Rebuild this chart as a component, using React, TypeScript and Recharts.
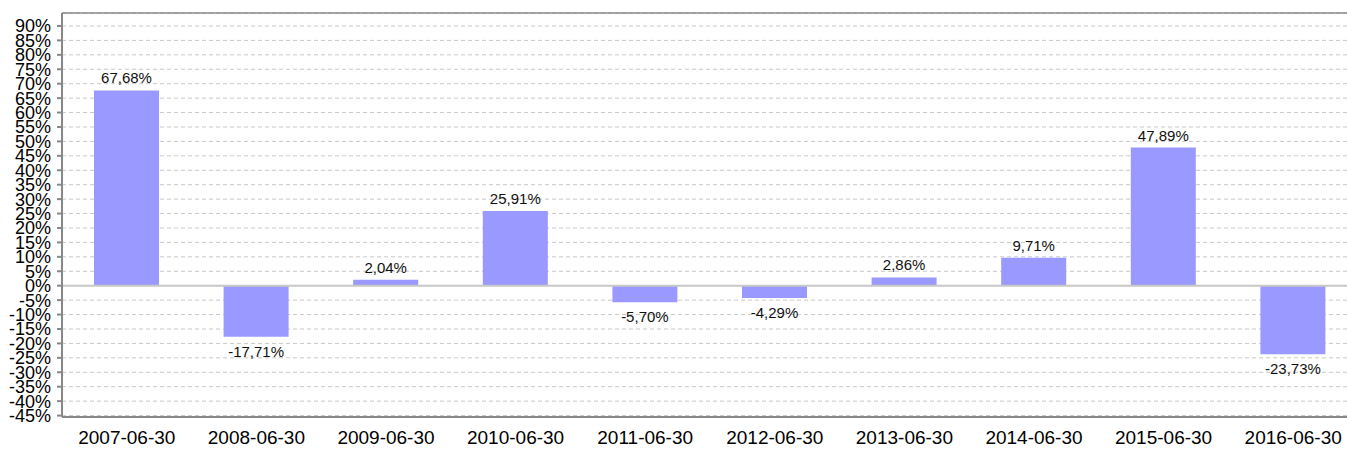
import React from "react";
import {
  BarChart,
  Bar,
  XAxis,
  YAxis,
  CartesianGrid,
  ReferenceLine,
  LabelList,
} from "recharts";

const dates = [
  "2007-06-30",
  "2008-06-30",
  "2009-06-30",
  "2010-06-30",
  "2011-06-30",
  "2012-06-30",
  "2013-06-30",
  "2014-06-30",
  "2015-06-30",
  "2016-06-30",
];

const returns = [67.68, -17.71, 2.04, 25.91, -5.7, -4.29, 2.86, 9.71, 47.89, -23.73];

const yTicks = [
  -45, -40, -35, -30, -25, -20, -15, -10, -5, 0, 5, 10, 15, 20, 25, 30, 35, 40,
  45, 50, 55, 60, 65, 70, 75, 80, 85, 90,
];

const chartData = dates.map((d, i) => ({ date: d, value: returns[i] }));

const font = "'Liberation Sans', Arial, sans-serif";

function fmt(v: number): string {
  return v.toFixed(2).replace(".", ",") + "%";
}

function BarLabel(props: any) {
  const { x, y, width, height, value } = props;
  const top = Math.min(y, y + height);
  const bottom = Math.max(y, y + height);
  const cx = x + width / 2;
  if (value >= 0) {
    return (
      <text x={cx} y={top - 7} textAnchor="middle" fontSize={15} fill="#111" fontFamily={font}>
        {fmt(value)}
      </text>
    );
  }
  return (
    <text x={cx} y={bottom + 20} textAnchor="middle" fontSize={15} fill="#111" fontFamily={font}>
      {fmt(value)}
    </text>
  );
}

export default function App() {
  // plot area runs a little past the right edge of the picture, as in the original
  return (
    <div
      style={{
        position: "fixed",
        left: 0,
        top: 0,
        width: 1347,
        height: 449,
        overflow: "hidden",
        background: "#fff",
      }}
    >
      <BarChart
        width={1358}
        height={449}
        data={chartData}
        margin={{ top: 13, right: 0, left: 0, bottom: 0 }}
        barSize={65}
      >
        <CartesianGrid
          vertical={false}
          stroke="#c8c8c8"
          strokeDasharray="4 3"
        />
        <XAxis
          dataKey="date"
          height={32}
          tickLine={false}
          tickSize={0}
          tickMargin={14}
          axisLine={{ stroke: "#888", strokeWidth: 2 }}
          tick={{ fontSize: 19, fill: "#000", fontFamily: font }}
          interval={0}
        />
        <YAxis
          width={62}
          domain={[-45.5, 94.5]}
          ticks={yTicks}
          interval={0}
          allowDataOverflow
          tickSize={5}
          tickMargin={6}
          tickLine={{ stroke: "#888", strokeWidth: 2 }}
          axisLine={{ stroke: "#888", strokeWidth: 2 }}
          tick={{ fontSize: 18, fill: "#000", fontFamily: font }}
          tickFormatter={(v: number) => `${v}%`}
        />
        <ReferenceLine y={94.5} stroke="#888" strokeWidth={1.5} />
        <ReferenceLine y={0} stroke="#c8c8c8" strokeWidth={2} />
        <Bar dataKey="value" fill="#9999ff" isAnimationActive={false}>
          <LabelList dataKey="value" content={BarLabel} />
        </Bar>
      </BarChart>
    </div>
  );
}
